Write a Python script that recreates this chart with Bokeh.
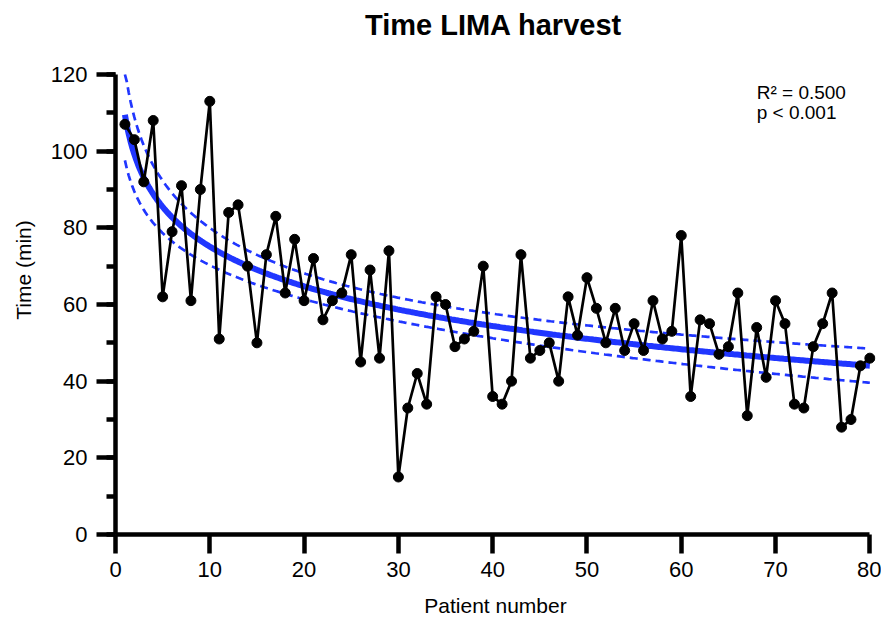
import numpy as np
from bokeh.plotting import figure
from bokeh.models import Range1d, SingleIntervalTicker, Label, ColumnDataSource
from bokeh.embed import file_html
from bokeh.resources import INLINE

# ---- data ----
patient = list(range(1, 81))
time_min = [107, 103, 92, 108, 62, 79, 91, 61, 90, 113,
            51, 84, 86, 70, 50, 73, 83, 63, 77, 61,
            72, 56, 61, 63, 73, 45, 69, 46, 74, 15,
            33, 42, 34, 62, 60, 49, 51, 53, 70, 36,
            34, 40, 73, 46, 48, 50, 40, 62, 52, 67,
            59, 50, 59, 48, 55, 48, 61, 51, 53, 78,
            36, 56, 55, 47, 49, 63, 31, 54, 41, 61,
            55, 34, 33, 49, 55, 63, 28, 30, 44, 46]
title_text = "Time LIMA harvest"
annot_r2 = "R\u00b2 = 0.500"
annot_p = "p < 0.001"

# ---- logarithmic regression fit with 95% confidence band ----
xa = np.array(patient, dtype=float)
ya = np.array(time_min, dtype=float)
lx = np.log(xa)
b, a = np.polyfit(lx, ya, 1)
resid = ya - (a + b * lx)
n = len(xa)
s = np.sqrt(np.sum(resid ** 2) / (n - 2))
sxx = np.sum((lx - lx.mean()) ** 2)
tcrit = 1.9908
xf = np.linspace(1, 80, 400)
lf = np.log(xf)
yf = a + b * lf
half = tcrit * s * np.sqrt(1.0 / n + (lf - lx.mean()) ** 2 / sxx)
up = np.minimum(yf + half, 120)
lo = yf - half

FONT = "Liberation Sans"
BLUE = "#2036ff"

p = figure(width=881, height=619, output_backend="svg", toolbar_location=None,
           x_range=Range1d(0, 80.6), y_range=Range1d(0, 138),
           min_border_left=115, min_border_right=6, min_border_top=5,
           min_border_bottom=84)
p.outline_line_color = None
p.xgrid.grid_line_color = None
p.ygrid.grid_line_color = None
p.background_fill_color = "white"
p.border_fill_color = "white"

src = ColumnDataSource(dict(x=xf, y=yf, up=up, lo=lo))
p.line("x", "up", source=src, line_color=BLUE, line_width=2.7, line_dash="8 5")
p.line("x", "lo", source=src, line_color=BLUE, line_width=2.7, line_dash="8 5")
p.line("x", "y", source=src, line_color=BLUE, line_width=6)

p.line(patient, time_min, line_color="black", line_width=2.7)
p.scatter(patient, time_min, size=10, fill_color="black", line_color="black")

for ax in (p.xaxis[0], p.yaxis[0]):
    ax.axis_line_width = 4.5
    ax.axis_line_color = "black"
    ax.major_tick_line_width = 4.5
    ax.minor_tick_line_width = 4.5
    ax.major_tick_line_color = "black"
    ax.minor_tick_line_color = "black"
    ax.major_tick_in = 0
    ax.minor_tick_in = 0
    ax.major_tick_out = 19
    ax.minor_tick_out = 9
    ax.major_label_text_font = FONT
    ax.major_label_text_font_size = "22px"
    ax.major_label_text_color = "black"
    ax.axis_label_text_font = FONT
    ax.axis_label_text_font_size = "21px"
    ax.axis_label_text_font_style = "normal"
    ax.axis_label_text_color = "black"

p.xaxis.ticker = SingleIntervalTicker(interval=10, num_minor_ticks=0)
p.xaxis.bounds = (0, 80)
p.xaxis.axis_label = "Patient number"
p.xaxis.major_label_standoff = 8
p.xaxis.axis_label_standoff = 14

p.yaxis.ticker = SingleIntervalTicker(interval=20, num_minor_ticks=2)
p.yaxis.bounds = (0, 120)
p.yaxis.axis_label = "Time (min)"
p.yaxis.major_label_standoff = 9
p.yaxis.axis_label_standoff = 13

p.add_layout(Label(x=40.1, y=132.8, text=title_text, text_font=FONT, text_font_size="29px",
                   text_font_style="bold", text_align="center", text_baseline="middle",
                   text_color="black"))
p.add_layout(Label(x=68, y=115.4, text=annot_r2, text_font=FONT, text_font_size="19px",
                   text_baseline="middle", text_color="black"))
p.add_layout(Label(x=68, y=110.2, text=annot_p, text_font=FONT, text_font_size="19px",
                   text_baseline="middle", text_color="black"))

open("out.html", "w").write(file_html(p, INLINE))
